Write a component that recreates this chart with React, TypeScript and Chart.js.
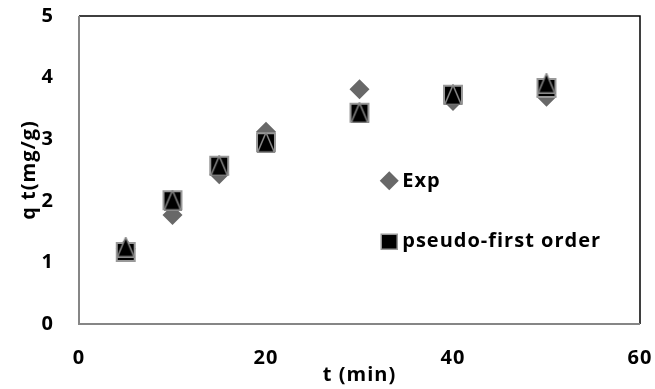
import React, { useEffect, useRef } from 'react';
import { Chart, registerables } from 'chart.js';

Chart.register(...registerables);

// ---- data ----
const times = [5, 10, 15, 20, 30, 40, 50];
const expValues = [1.22, 1.77, 2.43, 3.12, 3.81, 3.62, 3.69];
const pseudoFirstValues = [1.17, 2.01, 2.57, 2.95, 3.43, 3.72, 3.83];
const pseudoSecondValues = [1.25, 2.01, 2.57, 2.95, 3.43, 3.72, 3.91];
const xTickValues = [0, 20, 40, 60];
const yTickValues = [0, 1, 2, 3, 4, 5];
const seriesNames = ['Exp', 'pseudo-first order', 'pseudo-second order'];
const xTitle = 't (min)';
const yTitle = 'q t(mg/g)';

const FONT_FAMILY = "'Open Sans', 'Liberation Sans', sans-serif";
const FONT_SIZE = 20;
const tickFont = { family: FONT_FAMILY, size: FONT_SIZE, weight: 'bold' as const };

function makeTriangle(w: number, h: number, fill: string, stroke: string, lw: number) {
  const c = document.createElement('canvas');
  c.width = w;
  c.height = h;
  const ctx = c.getContext('2d')!;
  ctx.beginPath();
  ctx.moveTo(w / 2, lw / 2);
  ctx.lineTo(w - lw / 2, h - lw / 2);
  ctx.lineTo(lw / 2, h - lw / 2);
  ctx.closePath();
  ctx.fillStyle = fill;
  ctx.fill();
  ctx.lineWidth = lw;
  ctx.strokeStyle = stroke;
  ctx.stroke();
  return c;
}

const spacingPlugin = {
  id: 'spacing',
  beforeDraw(chart: any) {
    (chart.ctx as any).letterSpacing = '1px';
  },
};

const framePlugin = {
  id: 'frame',
  beforeDatasetsDraw(chart: any) {
    const { ctx, chartArea: a } = chart;
    ctx.save();
    ctx.lineWidth = 1.5;
    ctx.strokeStyle = '#000';
    ctx.beginPath();
    ctx.moveTo(a.left, a.top);
    ctx.lineTo(a.right, a.top);
    ctx.lineTo(a.right, a.bottom);
    ctx.stroke();
    ctx.lineWidth = 2;
    ctx.strokeStyle = '#868686';
    ctx.beginPath();
    ctx.moveTo(a.left, a.top);
    ctx.lineTo(a.left, a.bottom);
    ctx.lineTo(a.right, a.bottom);
    ctx.stroke();
    ctx.restore();
  },
};

const legendPlugin = {
  id: 'insideLegend',
  afterDatasetsDraw(chart: any) {
    const { ctx, chartArea: a } = chart;
    const w = a.right - a.left;
    const h = a.bottom - a.top;
    const mx = a.left + 0.553 * w;
    const y1 = a.top + 0.535 * h;
    const y2 = a.top + 0.733 * h;
    ctx.save();
    // diamond
    ctx.fillStyle = '#686868';
    ctx.beginPath();
    ctx.moveTo(mx, y1 - 9.5);
    ctx.lineTo(mx + 9.5, y1);
    ctx.lineTo(mx, y1 + 9.5);
    ctx.lineTo(mx - 9.5, y1);
    ctx.closePath();
    ctx.fill();
    // square
    ctx.fillStyle = '#000';
    ctx.fillRect(mx - 8, y2 - 7.5, 16, 15);
    ctx.strokeStyle = '#999';
    ctx.lineWidth = 1.5;
    ctx.strokeRect(mx - 8, y2 - 7.5, 16, 15);
    ctx.fillStyle = '#000';
    ctx.font = `bold ${FONT_SIZE}px ${FONT_FAMILY}`;
    (ctx as any).letterSpacing = '1px';
    ctx.textBaseline = 'middle';
    ctx.textAlign = 'left';
    ctx.fillText(seriesNames[0], mx + 13, y1 + 1);
    ctx.fillText(seriesNames[1], mx + 13, y2);
    ctx.restore();
  },
};

export default function App() {
  const ref = useRef<HTMLCanvasElement | null>(null);

  useEffect(() => {
    document.body.style.margin = '0';
    const canvas = ref.current!;
    const tri = makeTriangle(18, 21, '#000', '#8a8a8a', 1.5);
    const chart = new Chart(canvas, {
      type: 'scatter',
      data: {
        datasets: [
          {
            label: seriesNames[0],
            data: times.map((t, i) => ({ x: t, y: expValues[i] })),
            pointStyle: 'rectRot',
            pointRadius: 10,
            pointHoverRadius: 10,
            backgroundColor: '#686868',
            borderColor: '#686868',
            borderWidth: 0,
            order: 3,
          },
          {
            label: seriesNames[1],
            data: times.map((t, i) => ({ x: t, y: pseudoFirstValues[i] })),
            pointStyle: 'rect',
            pointRadius: 12.7,
            pointHoverRadius: 12.7,
            backgroundColor: '#000',
            borderColor: '#999',
            borderWidth: 2,
            order: 2,
          },
          {
            label: seriesNames[2],
            data: times.map((t, i) => ({ x: t, y: pseudoSecondValues[i] })),
            pointStyle: tri as any,
            pointRadius: 10,
            backgroundColor: '#000',
            borderColor: '#8a8a8a',
            order: 1,
          },
        ],
      },
      options: {
        animation: false,
        responsive: false,
        devicePixelRatio: 1,
        layout: { padding: { left: 0, right: 15, top: 16, bottom: 0 } },
        plugins: { legend: { display: false }, tooltip: { enabled: false } },
        events: [],
        scales: {
          x: {
            type: 'linear',
            min: 0,
            max: 60,
            afterBuildTicks: (s: any) => {
              s.ticks = xTickValues.map((v) => ({ value: v }));
            },
            afterFit: (s: any) => {
              s.height = 65;
              s.paddingLeft = 0;
              s.paddingRight = 0;
            },
            grid: { display: false, drawTicks: false },
            border: { display: false },
            ticks: { font: tickFont, color: '#000', padding: 22, maxRotation: 0 },
            title: {
              display: true,
              text: xTitle,
              font: tickFont,
              color: '#000',
              padding: { top: 0, bottom: 2 },
            },
          },
          y: {
            type: 'linear',
            min: 0,
            max: 5,
            afterBuildTicks: (s: any) => {
              s.ticks = yTickValues.map((v) => ({ value: v }));
            },
            afterFit: (s: any) => {
              s.width = 79;
              s.paddingTop = 0;
              s.paddingBottom = 0;
            },
            grid: { display: false, drawTicks: false },
            border: { display: false },
            ticks: { font: tickFont, color: '#000', padding: 25 },
            title: {
              display: true,
              text: yTitle,
              font: tickFont,
              color: '#000',
              padding: { top: 17, bottom: 0 },
            },
          },
        },
      },
      plugins: [spacingPlugin, framePlugin, legendPlugin],
    });
    return () => chart.destroy();
  }, []);

  return (
    <div style={{ width: 655, height: 389, background: '#fff' }}>
      <canvas ref={ref} width={655} height={389} style={{ display: 'block' }} />
    </div>
  );
}
